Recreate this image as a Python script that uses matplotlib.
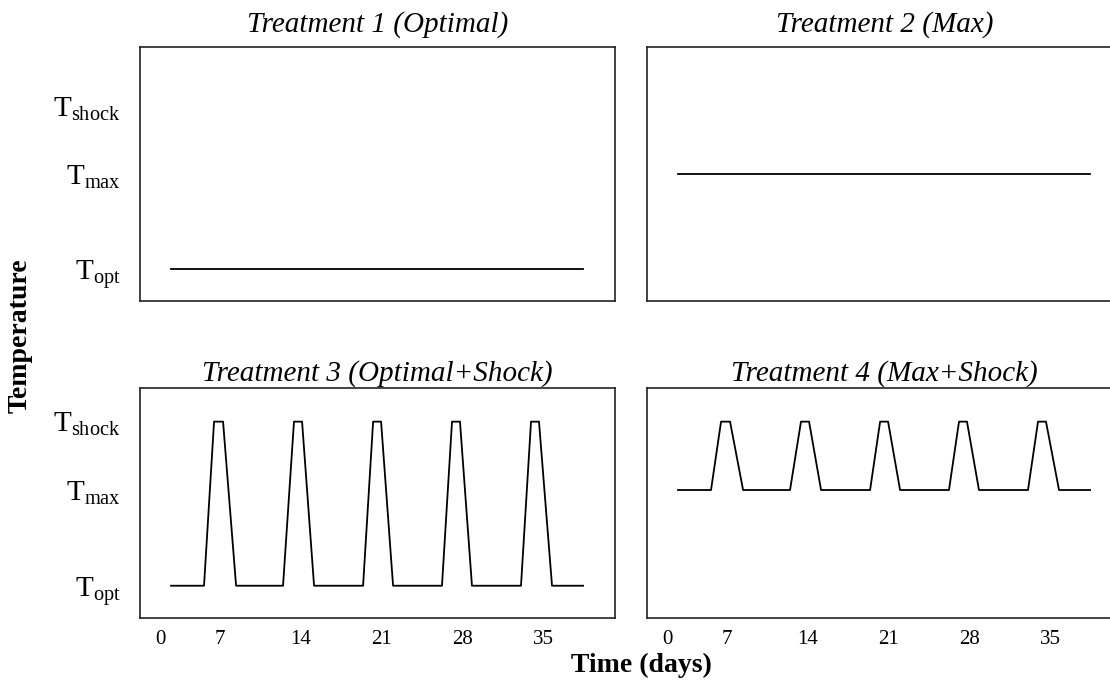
import matplotlib
matplotlib.use("Agg")
from matplotlib import pyplot as plt

plt.rcParams['font.family'] = ['Liberation Serif', 'DejaVu Serif']
plt.rcParams['mathtext.fontset'] = 'custom'
plt.rcParams['mathtext.rm'] = 'Liberation Serif'
plt.rcParams['mathtext.it'] = 'Liberation Serif:italic'

# temperature levels
T_OPT = 25
T_MAX = 32
T_SHOCK = 37

# time (days) of the corner points of the temperature schedule
flat_t = [2.75, 38.47]
shock_t = [2.75,
           5.61, 6.48, 7.26, 8.39,
           12.46, 13.41, 14.11, 15.15,
           19.40, 20.27, 20.96, 22.00,
           26.24, 27.11, 27.80, 28.84,
           33.09, 33.96, 34.65, 35.78,
           38.47]
shock_pattern = ['base',
                 'base', 'shock', 'shock', 'base',
                 'base', 'shock', 'shock', 'base',
                 'base', 'shock', 'shock', 'base',
                 'base', 'shock', 'shock', 'base',
                 'base', 'shock', 'shock', 'base',
                 'base']

titles = ["Treatment 1 (Optimal)", "Treatment 2 (Max)",
          "Treatment 3 (Optimal+Shock)", "Treatment 4 (Max+Shock)"]
base_levels = [T_OPT, T_MAX, T_OPT, T_MAX]

xtick_pos = [1.8, 7, 14, 21, 28, 35]
xtick_lab = ["0", "7", "14", "21", "28", "35"]
ytick_pos = [T_OPT, T_MAX, T_SHOCK]
ytick_lab = [r"$\mathregular{T_{opt}}$", r"$\mathregular{T_{max}}$", r"$\mathregular{T_{shock}}$"]

W, H = 1110, 687
fig = plt.figure(figsize=(W/100, H/100), dpi=100)

# axes boxes in pixels: left, top, right, bottom
boxes = [(140, 47.3, 615, 301), (647, 47.3, 1122, 301),
         (140, 388, 615, 618), (647, 388, 1122, 618)]
ylims = [(22.67, 41.31), (22.67, 41.31), (22.64, 39.46), (22.64, 39.46)]

for i in range(4):
    l, t, r, b = boxes[i]
    ax = fig.add_axes([l/W, 1-b/H, (r-l)/W, (b-t)/H])
    base = base_levels[i]
    if i < 2:
        ax.plot(flat_t, [base, base], color='black', lw=1.3)
    else:
        y = [T_SHOCK if p == 'shock' else base for p in shock_pattern]
        ax.plot(shock_t, y, color='black', lw=1.3)
    ax.set_xlim(0.06, 41.24)
    ax.set_ylim(*ylims[i])
    ax.set_title(titles[i], fontsize=21, style='italic', pad=11 if i < 2 else 5)
    ax.tick_params(length=0)
    if i % 2 == 0:
        ax.set_yticks(ytick_pos)
        ax.set_yticklabels(ytick_lab, fontsize=21)
        ax.tick_params(axis='y', pad=14)
    else:
        ax.set_yticks([])
    if i >= 2:
        ax.set_xticks(xtick_pos)
        ax.set_xticklabels(xtick_lab, fontsize=15)
        ax.tick_params(axis='x', pad=9)
    else:
        ax.set_xticks([])
    for s in ax.spines.values():
        s.set_linewidth(1.2)
        s.set_color('#222222')

fig.text(0.018, 0.512, "Temperature", rotation=90, fontsize=20, fontweight='bold',
         ha='center', va='center')
fig.text(0.5775, 0.031, "Time (days)", fontsize=20, fontweight='bold',
         ha='center', va='center')

fig.savefig('out.png', dpi=100)
